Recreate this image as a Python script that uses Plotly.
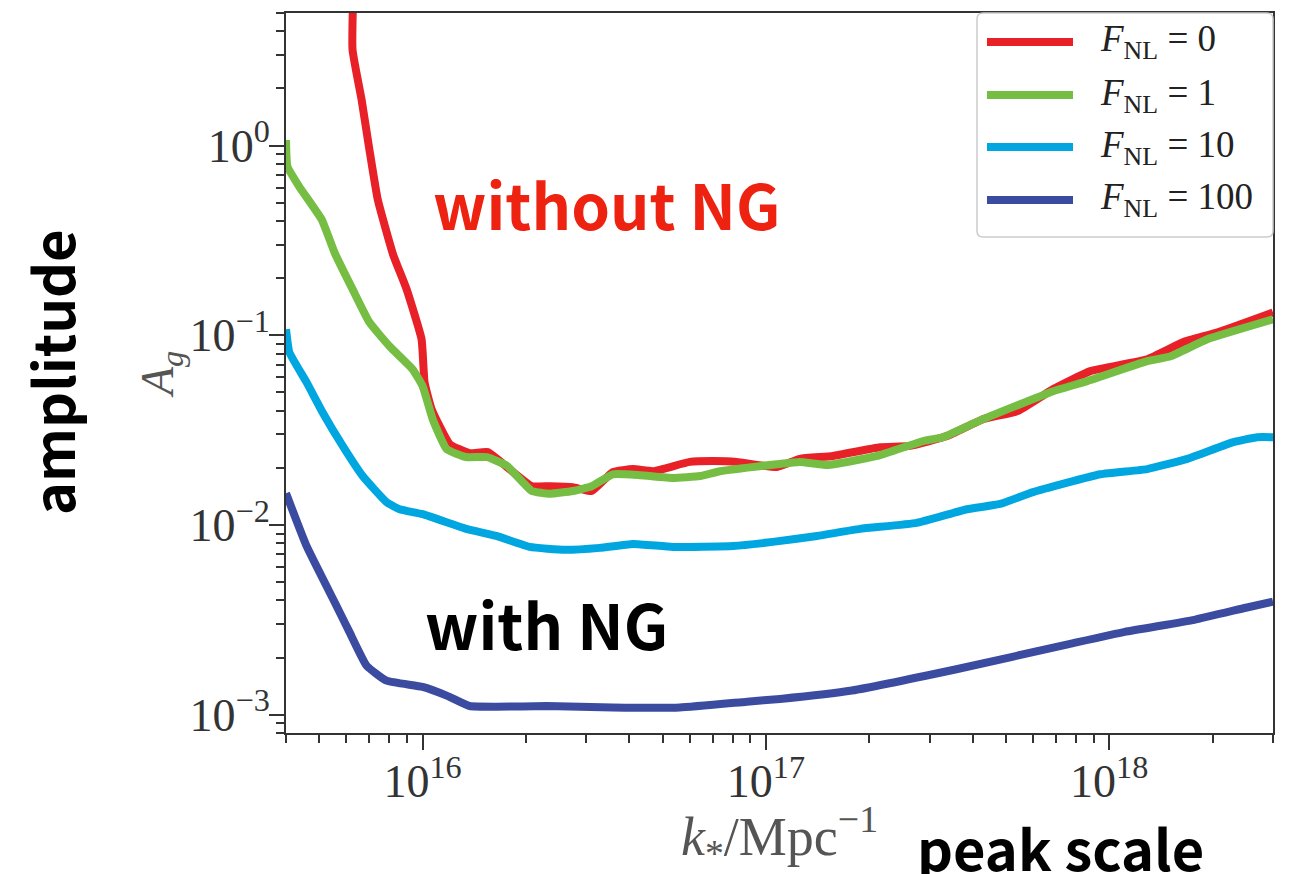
import math
import plotly.graph_objects as go

# Sensitivity curves: peak scale k_* [Mpc^-1] vs. amplitude A_g
k_fnl0 = [6.3e15, 6.25e15, 6.64e15, 7.0e15, 7.4e15, 8.2e15, 8.98e15, 9.93e15, 1.013e16, 1.062e16,
          1.199e16, 1.37e16, 1.549e16, 1.79e16, 2.08e16, 2.35e16, 2.74e16, 3.11e16, 3.58e16, 4.10e16,
          4.69e16, 6.0e16, 7.0e16, 8.22e16, 1.076e17, 1.256e17, 1.567e17, 2.15e17, 2.63e17, 3.37e17,
          4.29e17, 5.40e17, 6.87e17, 8.81e17, 1.29e18, 1.64e18, 2.07e18, 3.0e18]
a_fnl0 = [8.0, 3.2, 1.75, 0.95, 0.52, 0.267, 0.175, 0.0953, 0.0566, 0.0408,
          0.0267, 0.0239, 0.0242, 0.0197, 0.0160, 0.0160, 0.0158, 0.0151, 0.0190, 0.0197,
          0.0192, 0.0215, 0.0217, 0.0215, 0.0202, 0.0223, 0.0231, 0.0257, 0.0261, 0.0294,
          0.0361, 0.0398, 0.0520, 0.0647, 0.0748, 0.0919, 0.1037, 0.132]

k_fnl1 = [4.0e15, 4.04e15, 4.37e15, 5.08e15, 5.54e15, 6.25e15, 7.0e15, 8.01e15, 9.35e15, 1.0e16,
          1.07e16, 1.175e16, 1.34e16, 1.54e16, 1.76e16, 2.08e16, 2.35e16, 2.74e16, 3.11e16, 3.58e16,
          4.3e16, 5.36e16, 6.43e16, 7.35e16, 1.076e17, 1.256e17, 1.51e17, 2.11e17, 2.87e17, 3.28e17,
          4.29e17, 6.87e17, 8.63e17, 1.29e18, 1.51e18, 1.93e18, 3.0e18]
a_fnl1 = [1.07, 0.775, 0.608, 0.408, 0.273, 0.175, 0.117, 0.0875, 0.0662, 0.0539,
          0.0361, 0.0251, 0.0228, 0.0228, 0.0205, 0.0151, 0.0146, 0.0151, 0.0160, 0.0185,
          0.0183, 0.0177, 0.0181, 0.0192, 0.0209, 0.0215, 0.0207, 0.0231, 0.0277, 0.0290,
          0.0361, 0.0507, 0.0573, 0.0730, 0.0775, 0.0953, 0.1214]

k_fnl10 = [4.0e15, 4.09e15, 4.59e15, 5.11e15, 5.85e15, 6.69e15, 7.85e15, 8.57e15, 1.0e16, 1.34e16,
           1.64e16, 2.05e16, 2.60e16, 3.28e16, 4.10e16, 5.36e16, 8.02e16, 1.047e17, 1.41e17, 1.88e17,
           2.75e17, 3.85e17, 4.81e17, 6.0e17, 9.42e17, 1.29e18, 1.69e18, 2.30e18, 2.70e18, 3.0e18]
a_fnl10 = [0.1075, 0.0814, 0.0566, 0.0393, 0.0261, 0.0181, 0.0132, 0.0121, 0.0114, 0.00953,
           0.00875, 0.00766, 0.00739, 0.00757, 0.00794, 0.00766, 0.00775, 0.00814, 0.00875, 0.00953,
           0.01025, 0.0121, 0.0129, 0.0149, 0.0185, 0.0197, 0.0223, 0.0273, 0.0290, 0.0290]

k_fnl100 = [4.0e15, 4.59e15, 5.61e15, 6.12e15, 6.87e15, 7.85e15, 1.0e16, 1.175e16, 1.37e16, 1.64e16,
            2.30e16, 3.58e16, 5.61e16, 8.81e16, 1.10e17, 1.78e17, 3.56e17, 7.69e17, 1.11e18, 1.77e18,
            2.50e18, 3.0e18]
a_fnl100 = [0.0147, 0.00775, 0.00375, 0.00273, 0.00181, 0.00151, 0.00140, 0.00126, 0.00111, 0.00110,
            0.00111, 0.00109, 0.00109, 0.00117, 0.00121, 0.00134, 0.00173, 0.00236, 0.00273, 0.00316,
            0.00366, 0.00394]

legend_labels = ["<i>F</i><sub>NL</sub> = 0", "<i>F</i><sub>NL</sub> = 1",
                 "<i>F</i><sub>NL</sub> = 10", "<i>F</i><sub>NL</sub> = 100"]
colors = ["rgb(232,32,40)", "rgb(118,190,67)", "rgb(0,166,224)", "rgb(59,76,160)"]
series = list(zip(legend_labels, [k_fnl0, k_fnl1, k_fnl10, k_fnl100],
                  [a_fnl0, a_fnl1, a_fnl10, a_fnl100], colors))

x_major = [1e16, 1e17, 1e18]
x_major_text = ["10<sup>16</sup>", "10<sup>17</sup>", "10<sup>18</sup>"]
y_major = [1e-3, 1e-2, 1e-1, 1e0]
y_major_text = ["10<sup>−3</sup>", "10<sup>−2</sup>", "10<sup>−1</sup>", "10<sup>0</sup>"]

x_range = [4e15, 3e18]
y_range = [8e-4, 5.0]

# page geometry (px)
W, H = 1293, 874
M_L, M_R, M_T, M_B = 286, 20, 13, 141
PW, PH = W - M_L - M_R, H - M_T - M_B


def px(x):
    return (x - M_L) / PW


def py(y):
    return (H - M_B - y) / PH


def log_minor(lo, hi):
    vals = []
    for e in range(int(math.floor(math.log10(lo))), int(math.ceil(math.log10(hi))) + 1):
        for d in range(2, 10):
            v = d * 10.0 ** e
            if lo * 0.999 <= v <= hi * 1.001:
                vals.append(v)
    return vals


fig = go.Figure()
for name, k, a, color in series:
    fig.add_trace(go.Scatter(x=k, y=a, mode="lines", name=name, showlegend=False,
                             line=dict(color=color, width=8, shape="spline", smoothing=0.4)))

axis_color = "#333333"
serif = "Liberation Serif, DejaVu Serif, serif"
tick_font = dict(family=serif, size=46, color="#333333")

fig.update_xaxes(
    type="log", range=[math.log10(x_range[0]), math.log10(x_range[1])],
    showline=True, linecolor=axis_color, linewidth=2, mirror=True,
    showgrid=False, zeroline=False,
    tickmode="array", tickvals=x_major, ticktext=x_major_text,
    ticks="outside", ticklen=15, tickwidth=2, tickcolor=axis_color,
    tickfont=tick_font, ticklabelstandoff=-8,
    minor=dict(tickvals=log_minor(*x_range), ticks="outside", ticklen=8,
               tickwidth=1.5, tickcolor=axis_color, showgrid=False),
    title=dict(text="<i>k</i><sub>*</sub>/Mpc<sup>−1</sup>", standoff=2,
               font=dict(family=serif, size=54, color="#555555")),
)
fig.update_yaxes(
    type="log", range=[math.log10(y_range[0]), math.log10(y_range[1])],
    showline=True, linecolor=axis_color, linewidth=2, mirror=True,
    showgrid=False, zeroline=False,
    tickmode="array", tickvals=y_major, ticktext=y_major_text,
    ticks="outside", ticklen=15, tickwidth=2, tickcolor=axis_color,
    tickfont=tick_font, ticklabelstandoff=-10,
    minor=dict(tickvals=log_minor(*y_range), ticks="outside", ticklen=8,
               tickwidth=1.5, tickcolor=axis_color, showgrid=False),
    title=dict(text="<i>A</i><sub><i>g</i></sub>", standoff=0,
               font=dict(family=serif, size=46, color="#555555")),
)

# legend box with rounded corners, drawn in paper coordinates
bx0, bx1, by0, by1, r = 977, 1273, 13, 237, 6
path = (f"M {px(bx0 + r)},{py(by0)} L {px(bx1 - r)},{py(by0)} "
        f"Q {px(bx1)},{py(by0)} {px(bx1)},{py(by0 + r)} "
        f"L {px(bx1)},{py(by1 - r)} Q {px(bx1)},{py(by1)} {px(bx1 - r)},{py(by1)} "
        f"L {px(bx0 + r)},{py(by1)} Q {px(bx0)},{py(by1)} {px(bx0)},{py(by1 - r)} "
        f"L {px(bx0)},{py(by0 + r)} Q {px(bx0)},{py(by0)} {px(bx0 + r)},{py(by0)} Z")
fig.add_shape(type="path", path=path, xref="paper", yref="paper", layer="above",
              line=dict(color="#cccccc", width=1.5), fillcolor="rgba(255,255,255,0.85)")
row_y = [42, 95, 147, 200]
for (name, _, _, color), ry in zip(series, row_y):
    fig.add_shape(type="line", xref="paper", yref="paper", layer="above",
                  x0=px(987), x1=px(1073), y0=py(ry), y1=py(ry),
                  line=dict(color=color, width=8))
    fig.add_annotation(text=name, xref="paper", yref="paper", x=px(1098), y=py(ry),
                       xanchor="left", yanchor="middle", showarrow=False,
                       font=dict(family=serif, size=37, color="#222222"))

label_font = "Noto Sans CJK JP, Noto Sans, sans-serif"
fig.add_annotation(text="without NG", xref="paper", yref="paper", x=px(431), y=py(203),
                   xanchor="left", yanchor="middle", showarrow=False,
                   font=dict(family=label_font, size=62, color="rgb(238,34,17)", weight=700))
fig.add_annotation(text="with NG", xref="paper", yref="paper", x=px(423), y=py(623),
                   xanchor="left", yanchor="middle", showarrow=False,
                   font=dict(family=label_font, size=62, color="black", weight=700))
fig.add_annotation(text="amplitude", xref="paper", yref="paper", x=px(50), y=py(372),
                   xanchor="center", yanchor="middle", showarrow=False, textangle=-90,
                   font=dict(family=label_font, size=56, color="black", weight=700))
fig.add_annotation(text="peak scale", xref="paper", yref="paper", x=px(915), y=py(846),
                   xanchor="left", yanchor="middle", showarrow=False,
                   font=dict(family=label_font, size=56, color="black", weight=700))

fig.update_layout(
    width=W, height=H,
    margin=dict(l=M_L, r=M_R, t=M_T, b=M_B),
    plot_bgcolor="white", paper_bgcolor="white",
    showlegend=False,
)

fig.write_html("out.html")
